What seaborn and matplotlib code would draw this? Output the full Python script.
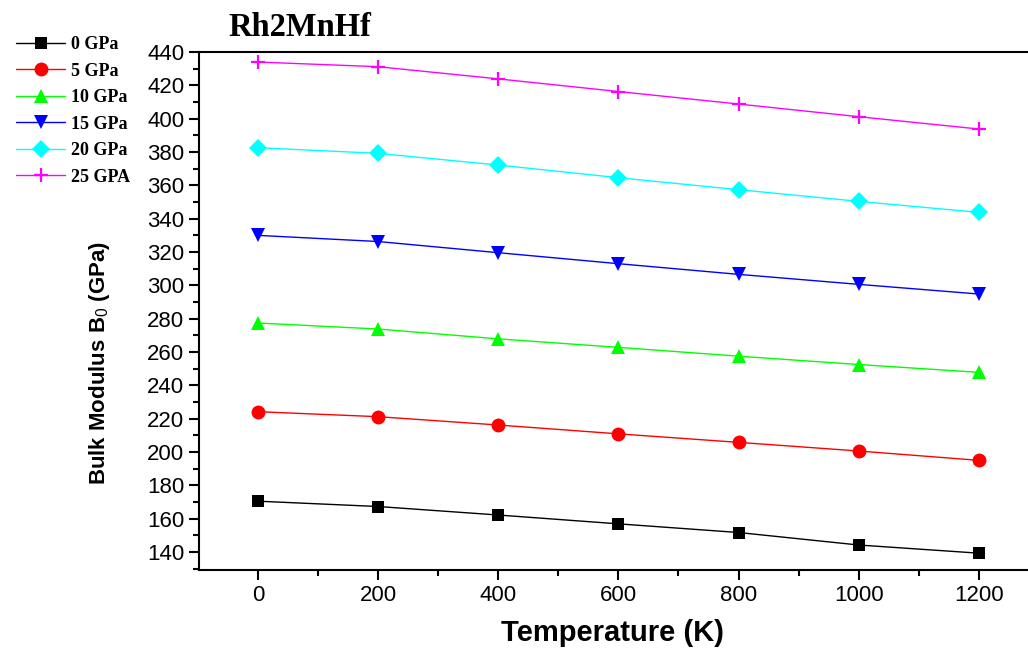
import matplotlib
matplotlib.use("Agg")
import matplotlib.pyplot as plt
import seaborn as sns
import pandas as pd
from matplotlib.ticker import MultipleLocator
from matplotlib.lines import Line2D

temperature = [0, 200, 400, 600, 800, 1000, 1200]
series_labels = ["0 GPa", "5 GPa", "10 GPa", "15 GPa", "20 GPa", "25 GPA"]
b0_0 = [170.5, 167.3, 162.2, 156.9, 151.7, 144.2, 139.3]
b0_5 = [224.2, 221.2, 216.2, 210.9, 205.8, 200.6, 195.0]
b0_10 = [277.4, 273.8, 267.9, 262.8, 257.5, 252.5, 247.8]
b0_15 = [330.0, 326.3, 319.6, 313.0, 306.6, 300.6, 294.8]
b0_20 = [382.6, 379.2, 372.2, 364.6, 357.4, 350.4, 343.8]
b0_25 = [434.0, 431.2, 423.9, 416.3, 408.8, 401.2, 393.8]
all_values = [b0_0, b0_5, b0_10, b0_15, b0_20, b0_25]

colors = ["#000000", "#ff0000", "#00ff00", "#0000ff", "#00ffff", "#ff00ff"]
markers = ["s", "o", "^", "v", "D", "+"]

rows = []
for lab, vals in zip(series_labels, all_values):
    for t, v in zip(temperature, vals):
        rows.append({"T": t, "B0": v, "series": lab})
df = pd.DataFrame(rows)

sns.set_style("ticks")
plt.rcParams.update({"text.color": "black", "axes.labelcolor": "black",
                     "xtick.color": "black", "ytick.color": "black",
                     "axes.edgecolor": "black",
                     "mathtext.fontset": "custom",
                     "mathtext.rm": "Liberation Sans",
                     "mathtext.it": "Liberation Sans",
                     "mathtext.bf": "Liberation Sans:bold"})
fig = plt.figure(figsize=(10.28, 6.57), dpi=100)
ax = fig.add_axes([0.1936, 0.1324, 0.8054, 0.7884])

def mstyle(m, c):
    if m == "+":
        return dict(markersize=10, markeredgewidth=1.6, markeredgecolor=c)
    if m == "D":
        return dict(markersize=9, markeredgewidth=0)
    if m == "s":
        return dict(markersize=9, markeredgewidth=0)
    return dict(markersize=10, markeredgewidth=0)

for lab, c, m in zip(series_labels, colors, markers):
    sub = df[df["series"] == lab]
    sns.lineplot(data=sub, x="T", y="B0", color=c, marker=m, linewidth=1,
                 ax=ax, legend=False, **mstyle(m, c))

ax.set_xlim(-98, 1280)
ax.set_ylim(129.2, 440)
ax.xaxis.set_major_locator(MultipleLocator(200))
ax.xaxis.set_minor_locator(MultipleLocator(100))
ax.yaxis.set_major_locator(MultipleLocator(20))
ax.yaxis.set_minor_locator(MultipleLocator(10))
ax.tick_params(which="major", direction="out", length=7, width=1.5, labelsize=16,
               color="black", labelcolor="black")
ax.tick_params(which="minor", direction="out", length=4, width=1.5, color="black")
for lab in ax.get_xticklabels() + ax.get_yticklabels():
    lab.set_fontfamily("Liberation Sans")
ax.spines["right"].set_visible(False)
ax.spines["top"].set_visible(True)
for s in ["left", "bottom", "top"]:
    ax.spines[s].set_linewidth(1.5)
    ax.spines[s].set_color("black")

ax.set_xlabel("Temperature (K)", fontsize=21, fontweight="bold", color="black",
              fontfamily="Liberation Sans", labelpad=10)
ax.set_ylabel("Bulk Modulus B$_{0}$ (GPa)", fontsize=16, fontweight="bold",
              color="black", fontfamily="Liberation Sans")
ax.yaxis.set_label_coords(-0.105, 0.40)

fig.text(0.222, 0.958, "Rh2MnHf", fontsize=23.5, fontweight="bold", color="black",
         fontfamily="Liberation Serif", ha="left", va="center")

handles = [Line2D([], [], color=c, marker=m, linewidth=1, **mstyle(m, c))
           for c, m in zip(colors, markers)]
leg = fig.legend(handles, series_labels, loc="upper left", bbox_to_anchor=(0.0, 0.97),
                 frameon=False, handlelength=2.7, handletextpad=0.35, labelspacing=0.53,
                 prop={"family": "Liberation Serif", "weight": "bold", "size": 13})
for t in leg.get_texts():
    t.set_color("black")

fig.savefig("out.png", dpi=100)
